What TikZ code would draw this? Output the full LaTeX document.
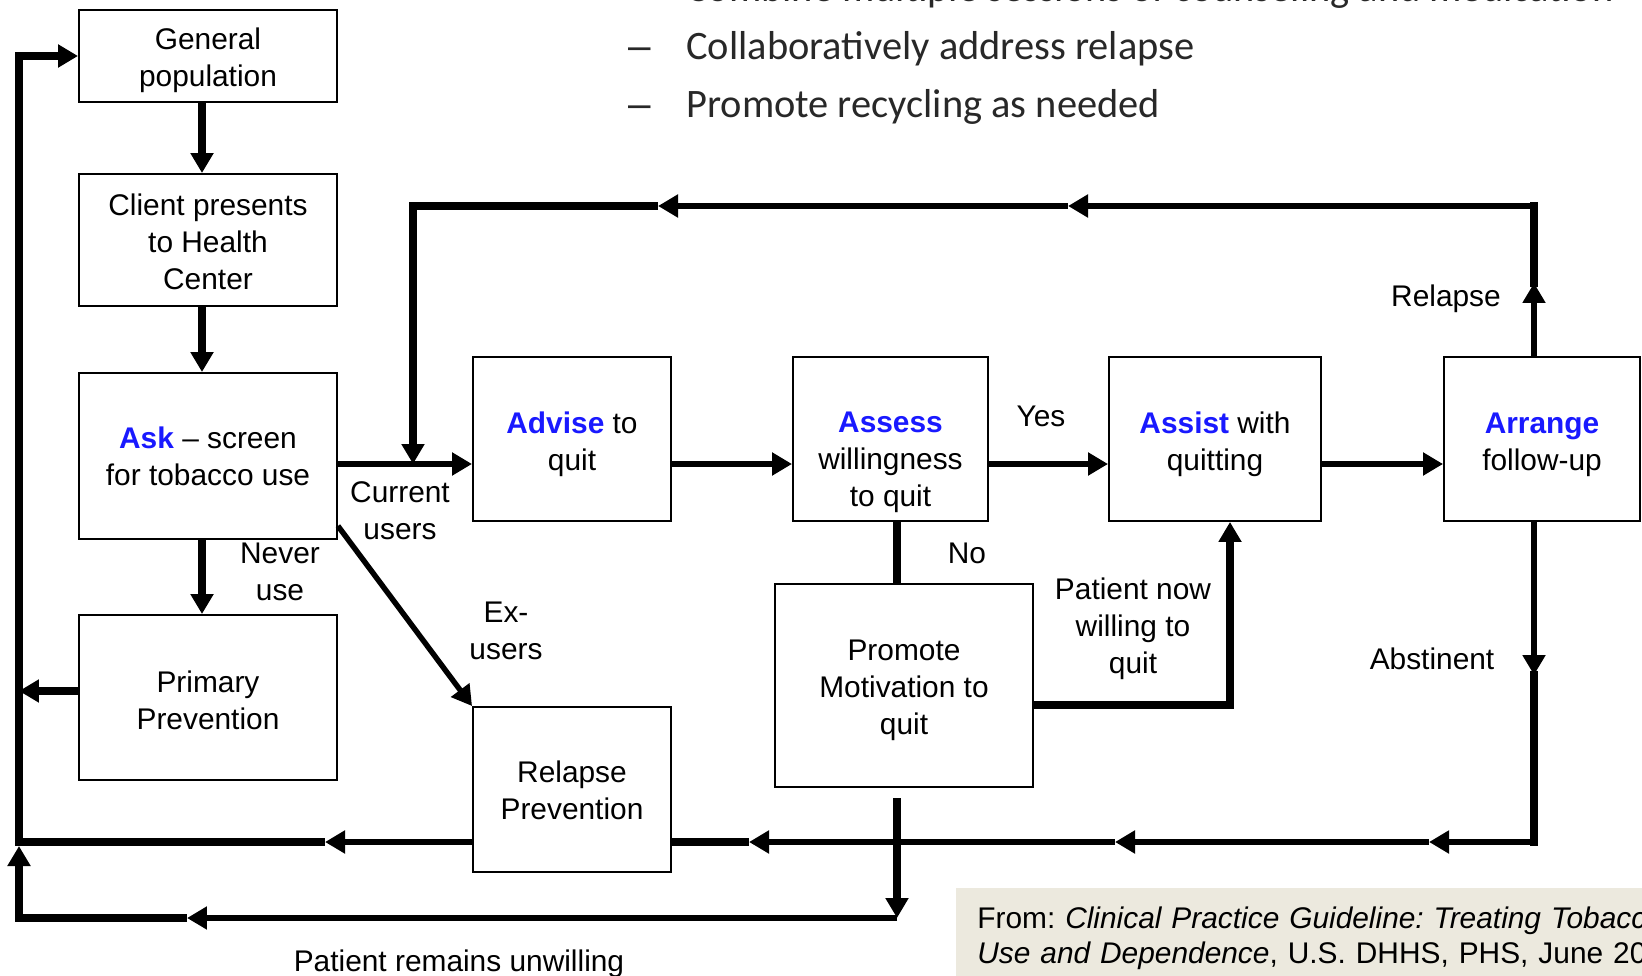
\documentclass[tikz,border=0pt]{standalone}
\usepackage{fontspec}
\setmainfont{Liberation Sans}
\newfontfamily\slidefont{Carlito}
\usetikzlibrary{arrows.meta}
\definecolor{askblue}{RGB}{25,25,255}
\definecolor{srcfill}{RGB}{236,233,222}
\definecolor{slidegray}{RGB}{40,40,40}
\newcommand{\aword}[1]{\textcolor{askblue}{\textbf{#1}}}
\frenchspacing

\begin{document}
\begin{tikzpicture}[x=0.02cm,y=-0.02cm,
  box/.style={draw,line width=1.1pt,inner sep=0pt},
  lbl/.style={align=center,inner sep=0pt,font=\fontsize{17pt}{21pt}\selectfont},
  headed/.style={-{Triangle[length=0.4cm,width=0.44cm]}},
  arr/.style={line width=3.1pt,headed},
  thk/.style={line width=4.6pt},
  slide/.style={anchor=base west,inner sep=0pt,text=slidegray,font=\slidefont\fontsize{23pt}{28pt}\selectfont}]
\useasboundingbox (0,0) rectangle (1642,976);
\clip (0,0) rectangle (1642,976);

\node[box,minimum width=5.16cm,minimum height=1.84cm,
  label={[lbl,yshift=-0.09cm]center:{General\\population}}] (gen) at (208,56) {};
\node[box,minimum width=5.16cm,minimum height=2.64cm,
  label={[lbl,yshift=-0.04cm]center:{Client presents\\to Health\\Center}}] (client) at (208,240) {};
\node[box,minimum width=5.16cm,minimum height=3.32cm,
  label={[lbl,yshift=-0.01cm]center:{\aword{Ask} -- screen\\for tobacco use}}] (ask) at (208,456) {};
\node[box,minimum width=5.16cm,minimum height=3.30cm,
  label={[lbl,yshift=-0.05cm]center:{Primary\\Prevention}}] (prim) at (208,697.5) {};
\node[box,minimum width=3.96cm,minimum height=3.28cm,
  label={[lbl,yshift=-0.1cm]center:{\aword{Advise} to\\quit}}] (advise) at (572,439) {};
\node[box,minimum width=3.90cm,minimum height=3.28cm,
  label={[lbl,yshift=-0.46cm]center:{\aword{Assess}\\willingness\\to quit}}] (assess) at (890.5,439) {};
\node[box,minimum width=4.24cm,minimum height=3.28cm,
  label={[lbl,yshift=-0.11cm]center:{\aword{Assist} with\\quitting}}] (assist) at (1215,439) {};
\node[box,minimum width=3.92cm,minimum height=3.28cm,
  label={[lbl,yshift=-0.11cm]center:{\aword{Arrange}\\follow-up}}] (arrange) at (1542,439) {};
\node[box,minimum width=3.96cm,minimum height=3.30cm,
  label={[lbl,yshift=-0.01cm]center:{Relapse\\Prevention}}] (relprev) at (572,789.5) {};
\node[box,minimum width=5.16cm,minimum height=4.06cm,
  label={[lbl,yshift=-0.1cm]center:{Promote\\Motivation to\\quit}}] (promote) at (904,685.5) {};

\coordinate (mainln) at (0,464);
\coordinate (topln) at (0,206);
\coordinate (botln) at (0,842);
\coordinate (lowln) at (0,918);
\coordinate (leftx) at (19,0);
\coordinate (rx) at (1534,0);
\coordinate (mx) at (897,0);
\coordinate (curx) at (413,0);
\coordinate (relup) at (1534,283);
\coordinate (abst) at (1534,675);
\coordinate (wl) at (1230,705);
\coordinate (t1) at (1068,206);
\coordinate (t2) at (658,206);
\coordinate (b1) at (1429,842);
\coordinate (b2) at (1115,842);
\coordinate (b3) at (749,842);
\coordinate (b4) at (325,842);
\coordinate (pd) at (897,798);
\coordinate (l1) at (187,918);
\coordinate (l2) at (19,846);

\draw[thk,headed] ([xshift=-0.12cm]gen.south) -- ([xshift=-0.12cm]client.north);
\draw[thk,headed] ([xshift=-0.12cm]client.south) -- ([xshift=-0.12cm]ask.north);
\draw[thk,headed] ([xshift=-0.12cm]ask.south) -- ([xshift=-0.12cm]prim.north);
\draw[thk,headed] ([yshift=0.13cm]prim.west) -- ([yshift=0.13cm]prim.west -| leftx);

\draw[arr] (ask.east |- mainln) -- (advise.west |- mainln);
\draw[arr] (advise.east |- mainln) -- (assess.west |- mainln);
\draw[arr] (assess.east |- mainln) -- (assist.west |- mainln);
\draw[arr] (assist.east |- mainln) -- (arrange.west |- mainln);
\draw[arr] ([yshift=0.28cm]ask.south east) -- (relprev.north west);

\draw[arr] (arrange.north -| rx) -- (relup);
\draw[thk,line cap=rect] (relup) -- (rx |- topln);
\draw[arr] (rx |- topln) -- (t1);
\draw[arr] (t1) -- (t2);
\draw[thk,headed] (t2) -- (curx |- topln) -- (curx |- mainln);

\draw[thk] (assess.south -| mx) -- (promote.north -| mx);
\draw[thk,headed] (promote.east |- wl) -- (wl) -- (assist.south -| wl);

\draw[arr] (arrange.south -| rx) -- (abst);
\draw[thk,line cap=rect] (abst) -- (rx |- botln);
\draw[arr] (rx |- botln) -- (b1);
\draw[arr] (b1) -- (b2);
\draw[arr] (b2) -- (b3);
\draw[thk] (b3) -- (relprev.east |- botln);
\draw[arr] (relprev.west |- botln) -- (b4);
\draw[thk,headed] (b4) -- (leftx |- botln) -- (leftx |- gen.west) -- (gen.west);

\draw[thk,headed] (pd) -- (mx |- lowln);
\draw[arr] (mx |- lowln) -- (l1);
\draw[thk,headed] (l1) -- (leftx |- lowln) -- (l2);

\node[lbl] (neveru) at (280,572) {Never\\use};
\node[lbl] (curru) at (400,511) {Current\\users};
\node[lbl] (exu) at (506,631) {Ex-\\users};
\node[lbl] (yes) at (1041,416) {Yes};
\node[lbl] (no) at (967,553) {No};
\node[lbl] (relapse) at (1446,299) {Relapse};
\node[lbl] (abstinent) at (1432,659) {Abstinent};
\node[lbl] (nowwill) at (1133,629) {Patient now\\willing to\\quit};
\node[lbl] (unwill) at (459,964) {Patient remains unwilling};

\node[anchor=north west,fill=srcfill,minimum height=2.0cm,inner xsep=0.42cm,inner ysep=0pt,
  text width=15cm,align=left,font=\fontsize{17pt}{20.3pt}\selectfont] (src) at (956,888)
  {From: \textit{Clinical Practice Guideline: Treating Tobacco}\\\textit{Use and Dependence}, U.S. DHHS, PHS, June 2000};

\node[slide] (bul1) at (686,2) {Combine multiple sessions of counseling and medication};
\node[slide,font=\fontsize{23pt}{28pt}\selectfont] (dash2) at (628,60) {–};
\node[slide] (bul2) at (686,60) {Collaboratively address relapse};
\node[slide,font=\fontsize{23pt}{28pt}\selectfont] (dash3) at (628,118) {–};
\node[slide] (bul3) at (686,118) {Promote recycling as needed};
\end{tikzpicture}
\end{document}
